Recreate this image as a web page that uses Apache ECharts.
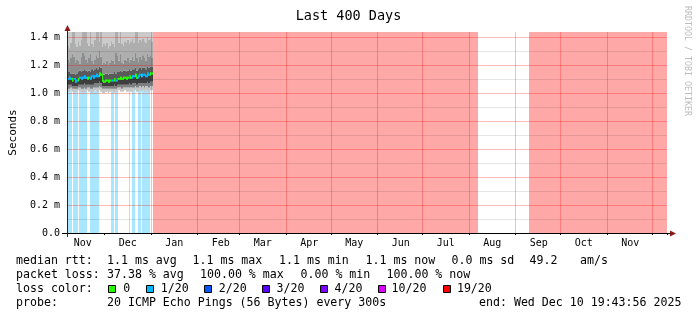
<!DOCTYPE html>
<html><head><meta charset="utf-8">
<script src="https://cdn.jsdelivr.net/npm/echarts@6/dist/echarts.min.js"></script>
<style>html,body{margin:0;padding:0;background:#fff}#c{width:697px;height:321px}</style>
</head><body><div id="c"></div>
<script>
// ---------- data ----------
const startDate = '2024-11-06';          // first daily column of the 400-day window
const dayCount = 400;
const yMax = 1.436;                        // ms

const tickDates  = ['2024-11-16','2024-12-16','2025-01-16','2025-02-16','2025-03-16','2025-04-16','2025-05-16','2025-06-16','2025-07-16','2025-08-16','2025-09-16','2025-10-16','2025-11-16'];
const tickLabels = ['Nov','Dec','Jan','Feb','Mar','Apr','May','Jun','Jul','Aug','Sep','Oct','Nov'];

// loss periods: [start day, end day (exclusive)], level out of 20
const lossStart = [0, 4, 8, 15, 29, 32, 41, 43, 47, 50, 57, 308];
const lossEnd   = [3, 7, 13, 21, 31, 34, 42, 45, 49, 55, 274, 400];
const lossLevel = [1, 1, 1, 1, 1, 1, 1, 1, 1, 1, 19, 19];

const lossKeys   = ['0','1/20','2/20','3/20','4/20','10/20','19/20'];
const lossLevels = [0, 1, 2, 3, 4, 10, 19];
const lossColors = ['#26ff00','#00b8ff','#0059ff','#5e00ff','#7e00ff','#dd00ff','#ff0000'];

// smoke per day (ms), days 0..56
const median = [1.10,1.11,1.10,1.09,1.10,1.08,1.09,1.10,1.11,1.10,
                1.11,1.12,1.11,1.10,1.11,1.10,1.12,1.11,1.12,1.13,
                1.12,1.14,1.13,1.09,1.08,1.09,1.09,1.08,1.09,1.09,
                1.09,1.10,1.09,1.10,1.10,1.11,1.10,1.11,1.11,1.10,
                1.11,1.12,1.11,1.12,1.12,1.13,1.11,1.12,1.13,1.12,
                1.13,1.13,1.12,1.14,1.13,1.14,1.14];
const smokeLo = [1.01,1.01,1.02,1.01,1.00,1.01,1.01,1.02,1.01,1.01,
                 1.00,1.01,1.01,1.02,1.01,1.01,1.00,1.01,1.02,1.01,
                 1.01,1.02,1.01,1.00,1.00,1.01,1.01,1.00,1.01,1.01,
                 1.01,1.00,1.01,1.01,1.02,1.01,1.01,1.01,1.02,1.01,
                 1.01,1.02,1.01,1.01,1.02,1.02,1.01,1.01,1.02,1.01,
                 1.02,1.01,1.02,1.02,1.01,1.02,1.02];
const smokeB1 = [1.03,1.03,1.04,1.03,1.03,1.03,1.03,1.04,1.04,1.03,
                 1.03,1.04,1.03,1.04,1.04,1.03,1.03,1.04,1.04,1.04,
                 1.04,1.05,1.04,1.03,1.03,1.03,1.03,1.03,1.03,1.03,
                 1.03,1.03,1.03,1.04,1.04,1.04,1.03,1.04,1.04,1.04,
                 1.04,1.04,1.04,1.04,1.04,1.05,1.04,1.04,1.05,1.04,
                 1.05,1.04,1.05,1.05,1.04,1.05,1.05];
const smokeB2 = [1.06,1.06,1.06,1.05,1.05,1.05,1.05,1.06,1.06,1.06,
                 1.06,1.07,1.06,1.06,1.06,1.06,1.06,1.06,1.07,1.07,
                 1.07,1.08,1.07,1.05,1.05,1.05,1.05,1.05,1.05,1.05,
                 1.05,1.06,1.05,1.06,1.06,1.06,1.06,1.06,1.06,1.06,
                 1.06,1.07,1.06,1.07,1.07,1.07,1.06,1.07,1.07,1.07,
                 1.07,1.07,1.07,1.08,1.07,1.08,1.08];
const smokeB3 = [1.15,1.15,1.14,1.14,1.14,1.13,1.14,1.15,1.16,1.15,
                 1.16,1.17,1.16,1.15,1.16,1.15,1.17,1.16,1.17,1.18,
                 1.17,1.19,1.18,1.14,1.13,1.14,1.14,1.13,1.14,1.14,
                 1.14,1.15,1.14,1.15,1.15,1.16,1.15,1.16,1.16,1.15,
                 1.16,1.17,1.16,1.17,1.17,1.18,1.16,1.17,1.18,1.17,
                 1.18,1.18,1.17,1.19,1.18,1.19,1.19];
const smokeB4 = [1.24,1.22,1.25,1.28,1.26,1.22,1.24,1.23,1.21,1.26,
                 1.29,1.27,1.24,1.22,1.25,1.28,1.23,1.21,1.24,1.27,
                 1.25,1.30,1.26,1.20,1.22,1.21,1.23,1.20,1.22,1.24,
                 1.23,1.21,1.29,1.27,1.23,1.28,1.22,1.21,1.24,1.23,
                 1.25,1.22,1.24,1.26,1.23,1.29,1.25,1.22,1.26,1.24,
                 1.27,1.25,1.23,1.28,1.26,1.27,1.25];
const smokeB5 = [1.34,1.32,1.36,1.46,1.48,1.35,1.33,1.37,1.34,1.38,
                 1.50,1.47,1.45,1.36,1.34,1.47,1.35,1.33,1.38,1.46,
                 1.45,1.37,1.48,1.33,1.35,1.34,1.36,1.32,1.34,1.37,
                 1.35,1.33,1.49,1.47,1.36,1.46,1.35,1.34,1.37,1.36,
                 1.38,1.35,1.37,1.39,1.36,1.47,1.46,1.36,1.38,1.37,
                 1.39,1.37,1.36,1.40,1.38,1.39,1.37];
const smokeHi = [1.60,1.58,1.62,1.66,1.70,1.60,1.58,1.61,1.59,1.63,
                 1.72,1.68,1.66,1.61,1.60,1.69,1.60,1.58,1.62,1.67,
                 1.66,1.62,1.70,1.57,1.59,1.58,1.60,1.56,1.58,1.61,
                 1.59,1.57,1.71,1.68,1.60,1.67,1.59,1.58,1.61,1.60,
                 1.62,1.59,1.61,1.63,1.60,1.68,1.67,1.60,1.62,1.61,
                 1.63,1.61,1.60,1.64,1.62,1.63,1.61];

const statsRtt  = ['1.1 ms avg','1.1 ms max','1.1 ms min','1.1 ms now','0.0 ms sd','49.2','am/s'];
const statsLoss = ['37.38 % avg','100.00 % max','0.00 % min','100.00 % now'];
const probeText = '20 ICMP Echo Pings (56 Bytes) every 300s';
const endText   = 'end: Wed Dec 10 19:43:56 2025';

// ---------- build ----------
const categories = [];
const t0 = Date.parse(startDate + 'T00:00:00Z');
for (let i = 0; i < dayCount; i++) {
  categories.push(new Date(t0 + i * 86400000).toISOString().slice(0, 10));
}
function lossOfDay(d) {
  for (let k = 0; k < lossStart.length; k++) if (d >= lossStart[k] && d < lossEnd[k]) return lossLevel[k];
  return 0;
}
function colorOfLevel(l) { return lossColors[lossLevels.indexOf(l)]; }
function rgba(hex, a) {
  const n = parseInt(hex.slice(1), 16);
  return 'rgba(' + (n >> 16) + ',' + ((n >> 8) & 255) + ',' + (n & 255) + ',' + a + ')';
}
const smokeData = median.map((m, d) => [d, smokeLo[d], smokeB1[d], smokeB2[d], m, smokeB3[d], smokeB4[d], smokeB5[d], smokeHi[d], lossOfDay(d)]);
const lossData = lossStart.map((s, k) => [s, lossEnd[k], lossLevel[k]]);
const bandColors = [[1,2,'#c6c6c6'],[2,3,'#808080'],[3,4,'#3e3e3e'],[4,5,'#5a5a5a'],[5,6,'#8e8e8e'],[6,7,'#aeaeae'],[7,8,'#cbcbcb']];

function clampRect(cs, x0, x1, ya, yb) {
  let top = Math.max(Math.min(ya, yb), cs.y);
  let bot = Math.min(Math.max(ya, yb), cs.y + cs.height);
  if (bot <= top) return null;
  return { x: x0, y: top, width: x1 - x0, height: bot - top };
}

const F = '"DejaVu Sans Mono", monospace';
const graphics = [];
function txt(text, x, y, extra) {
  graphics.push({ type: 'text', x: x, y: y, silent: true, z: 20,
    style: Object.assign({ text: text, fill: '#000', font: '11.6px ' + F, verticalAlign: 'middle', align: 'left' }, extra || {}) });
}
// footer
txt('median rtt:', 16, 261);
[107, 192.5, 279, 365.5, 451.5, 529.5, 580].forEach((x, i) => txt(statsRtt[i], x, 261));
txt('packet loss:', 16, 275);
[107, 200, 300.5, 386.5].forEach((x, i) => txt(statsLoss[i], x, 275));
txt('loss color:', 16, 289);
const boxX = [108.5, 146.5, 204.5, 262.5, 320.5, 378.5, 443.5];
const keyX = [123.3, 160.8, 218.7, 276.6, 334.5, 391.5, 456.9];
lossKeys.forEach((k, i) => {
  graphics.push({ type: 'rect', silent: true, z: 20, shape: { x: boxX[i], y: 285.5, width: 7, height: 7 },
    style: { fill: lossColors[i], stroke: '#000', lineWidth: 1 } });
  txt(k, keyX[i], 289);
});
txt('probe:', 16, 303);
txt(probeText, 107, 303);
txt(endText, 479, 303);
// watermark
txt('RRDTOOL / TOBI OETIKER', 687, 6, { font: '8.3px ' + F, fill: '#bdbdbd' });
graphics[graphics.length - 1].rotation = -Math.PI / 2;
// axis extensions and arrows
graphics.push({ type: 'line', silent: true, z: 21, shape: { x1: 62, y1: 233.5, x2: 672, y2: 233.5 }, style: { stroke: '#000', lineWidth: 1 } });
graphics.push({ type: 'line', silent: true, z: 21, shape: { x1: 67.5, y1: 237, x2: 67.5, y2: 30 }, style: { stroke: '#222', lineWidth: 1 } });
graphics.push({ type: 'polygon', silent: true, z: 22, shape: { points: [[670, 230.5], [676, 233.5], [670, 236.5]] }, style: { fill: '#8a1a1a' } });
graphics.push({ type: 'polygon', silent: true, z: 22, shape: { points: [[64.5, 31], [67.5, 25], [70.5, 31]] }, style: { fill: '#8a1a1a' } });

const chart = echarts.init(document.getElementById('c'), null, { renderer: 'canvas' });
chart.setOption({
  animation: false,
  backgroundColor: '#fff',
  title: { text: 'Last 400 Days', left: 'center', top: 9, padding: 0,
    textStyle: { fontFamily: F, fontSize: 13.5, fontWeight: 'normal', color: '#000', lineHeight: 14 } },
  grid: { left: 67, right: 30, top: 32, bottom: 88, containLabel: false },
  xAxis: [{
    type: 'category', data: categories, boundaryGap: true, z: 10,
    axisLine: { show: true, lineStyle: { color: '#000', width: 1 } },
    axisTick: { show: true, length: 2, interval: (i, v) => v.slice(8) === '01', lineStyle: { color: '#000' } },
    axisLabel: { interval: (i, v) => tickDates.indexOf(v) >= 0, formatter: v => tickLabels[tickDates.indexOf(v)],
      fontFamily: F, fontSize: 10, color: '#000', margin: 5 },
    splitLine: { show: true, showMinLine: false, showMaxLine: false, interval: (i, v) => v.slice(8) === '01',
      lineStyle: { color: 'rgba(255,0,0,0.27)', width: 1 } }
  }, {
    type: 'value', min: 0, max: dayCount, show: false, gridIndex: 0
  }],
  yAxis: {
    type: 'value', min: 0, max: yMax, interval: 0.1, z: 10,
    name: 'Seconds', nameLocation: 'middle', nameGap: 45, nameRotate: 90,
    nameTextStyle: { fontFamily: F, fontSize: 11, color: '#000' },
    axisLine: { show: true, lineStyle: { color: '#222' } },
    axisTick: { show: false },
    axisLabel: { showMaxLabel: false, margin: 7, fontFamily: F, fontSize: 10, color: '#000',
      formatter: v => { const k = Math.round(v * 10); if (k % 2) return ''; return k === 0 ? '0.0' : (k / 10).toFixed(1) + ' m'; } },
    splitLine: { show: true, showMaxLine: false, lineStyle: { color: ['rgba(255,0,0,0.27)', 'rgba(0,0,0,0.1)'], width: 1 } }
  },
  series: [{
    type: 'custom', name: 'loss', xAxisIndex: 1, yAxisIndex: 0, z: 1, silent: true,
    data: lossData, encode: { x: [0, 1], y: 2 },
    renderItem: (params, api) => {
      const cs = params.coordSys;
      const x0 = Math.round(api.coord([api.value(0), 0])[0]);
      const x1 = Math.round(api.coord([api.value(1), 0])[0]);
      const r = clampRect(cs, x0, x1, api.coord([0, 0])[1], api.coord([0, yMax])[1]);
      return { type: 'rect', shape: r, style: { fill: rgba(colorOfLevel(api.value(2)), 0.34) } };
    }
  }, {
    type: 'custom', name: 'smoke', xAxisIndex: 1, yAxisIndex: 0, z: 2, silent: true,
    data: smokeData, encode: { x: 0, y: 4 },
    renderItem: (params, api) => {
      const cs = params.coordSys;
      const d = api.value(0);
      const x0 = Math.round(api.coord([d, 0])[0]);
      const x1 = Math.round(api.coord([d + 1, 0])[0]);
      const children = [];
      bandColors.forEach(b => {
        const r = clampRect(cs, x0, x1, api.coord([d, api.value(b[0])])[1], api.coord([d, api.value(b[1])])[1]);
        if (r) children.push({ type: 'rect', shape: r, style: { fill: b[2] } });
      });
      const col = colorOfLevel(api.value(9));
      const ym = api.coord([d, api.value(4)])[1];
      children.push({ type: 'rect', shape: { x: x0, y: ym - 1, width: x1 - x0, height: 2 }, style: { fill: col } });
      if (params.dataIndex > 0) {
        const yp = api.coord([d, median[params.dataIndex - 1]])[1];
        const top = Math.min(yp, ym) - 1, bot = Math.max(yp, ym) + 1;
        children.push({ type: 'rect', shape: { x: x0, y: top, width: 1, height: bot - top }, style: { fill: col } });
      }
      return { type: 'group', children: children };
    }
  }],
  graphic: graphics
});
</script></body></html>
